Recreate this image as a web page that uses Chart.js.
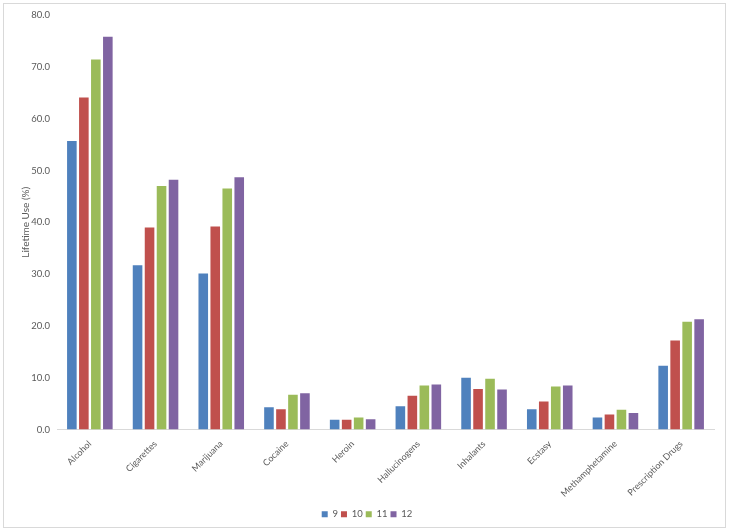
<!DOCTYPE html>
<html>
<head>
<meta charset="utf-8">
<script src="https://cdn.jsdelivr.net/npm/chart.js@4"></script>
<style>
  body { margin: 0; background: #fff; }
  #wrap { position: relative; width: 729px; height: 531px; }
  #frame { position: absolute; left: 3px; top: 3px; width: 723px; height: 525px;
           border: 1px solid #d9d9d9; box-sizing: border-box; pointer-events: none; }
</style>
</head>
<body>
<div id="wrap">
  <canvas id="useChart" width="729" height="531"></canvas>
  <div id="frame"></div>
</div>
<script>
// Lifetime substance use by grade
const categories = ['Alcohol', 'Cigarettes', 'Marijuana', 'Cocaine', 'Heroin',
  'Hallucinogens', 'Inhalants', 'Ecstasy', 'Methamphetamine', 'Prescription Drugs'];
const grades = ['9', '10', '11', '12'];
const grade9 = [55.7, 31.7, 30.1, 4.3, 1.9, 4.5, 10.0, 3.9, 2.3, 12.3];
const grade10 = [64.1, 39.0, 39.2, 3.9, 1.9, 6.5, 7.8, 5.4, 2.9, 17.2];
const grade11 = [71.4, 47.0, 46.5, 6.7, 2.3, 8.5, 9.8, 8.3, 3.8, 20.8];
const grade12 = [75.8, 48.2, 48.7, 7.0, 2.0, 8.7, 7.7, 8.5, 3.2, 21.3];
const yTicks = [0, 10, 20, 30, 40, 50, 60, 70, 80];

const colors = ['#4F81BD', '#C0504D', '#9BBB59', '#8064A2'];
const seriesData = [grade9, grade10, grade11, grade12];

const ctx = document.getElementById('useChart').getContext('2d');
const textColor = '#595959';
const family = 'Lato, "Open Sans", sans-serif';

new Chart(ctx, {
  type: 'bar',
  data: {
    labels: categories,
    datasets: grades.map((g, i) => ({
      label: g,
      data: seriesData[i],
      backgroundColor: colors[i],
      borderWidth: 0,
      categoryPercentage: 0.73,
      barPercentage: 0.8
    }))
  },
  options: {
    responsive: false,
    animation: false,
    layout: { padding: { top: 15, right: 15, bottom: 2, left: 20 } },
    plugins: {
      legend: {
        position: 'bottom',
        labels: { boxWidth: 6, boxHeight: 6, padding: 3, color: textColor,
                  font: { family: family, size: 9.5 } }
      },
      tooltip: { enabled: false }
    },
    scales: {
      x: {
        grid: { display: false, drawTicks: false },
        border: { color: '#d9d9d9' },
        afterFit: axis => { axis.height = 77; },
        ticks: { color: textColor, font: { family: family, size: 9 },
                 minRotation: 45, maxRotation: 45, autoSkip: false, padding: 9 }
      },
      y: {
        min: 0,
        max: 80,
        afterBuildTicks: axis => { axis.ticks = yTicks.map(v => ({ value: v })); },
        afterFit: axis => { axis.width = 37; },
        grid: { display: false, drawTicks: false },
        border: { display: false },
        ticks: { color: textColor, font: { family: family, size: 9.5 }, padding: 7,
                 callback: v => Number(v).toFixed(1) },
        title: { display: true, text: 'Lifetime Use (%)', color: textColor,
                 font: { family: family, size: 10 }, padding: { top: 0, bottom: 2 } }
      }
    }
  }
});
</script>
</body>
</html>
